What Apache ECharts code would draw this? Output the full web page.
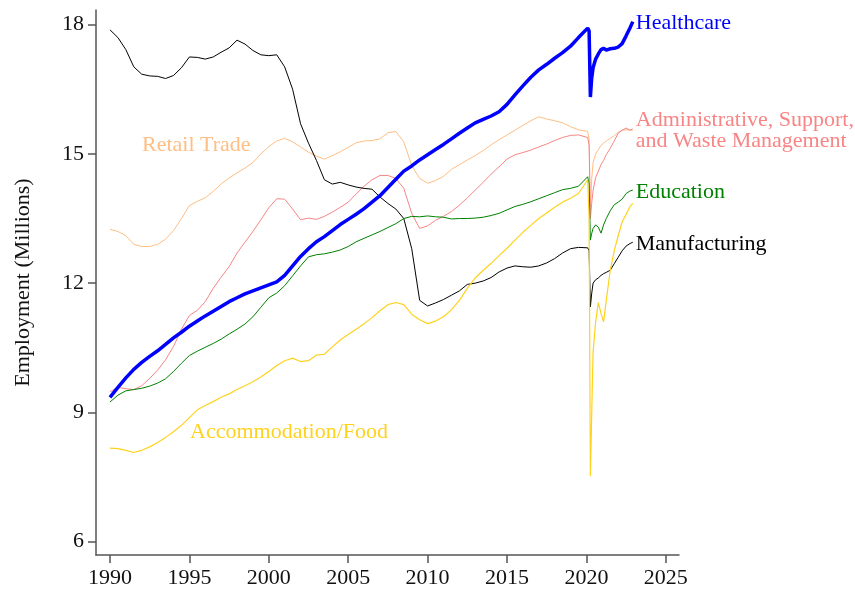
<!DOCTYPE html>
<html>
<head>
<meta charset="utf-8">
<script src="https://cdn.jsdelivr.net/npm/echarts@6.0.0/dist/echarts.min.js"></script>
<style>
  html, body { margin: 0; padding: 0; background: #fff; }
  #chart { width: 855px; height: 592px; }
</style>
</head>
<body>
<div id="chart"></div>
<script>
// x positions (decimal years): half-yearly to 2019.5, then denser through the 2020 drop
var years = [
  1990, 1990.5, 1991, 1991.5, 1992, 1992.5, 1993, 1993.5, 1994, 1994.5,
  1995, 1995.5, 1996, 1996.5, 1997, 1997.5, 1998, 1998.5, 1999, 1999.5,
  2000, 2000.5, 2001, 2001.5, 2002, 2002.5, 2003, 2003.5, 2004, 2004.5,
  2005, 2005.5, 2006, 2006.5, 2007, 2007.5, 2008, 2008.5, 2009, 2009.5,
  2010, 2010.5, 2011, 2011.5, 2012, 2012.5, 2013, 2013.5, 2014, 2014.5,
  2015, 2015.5, 2016, 2016.5, 2017, 2017.5, 2018, 2018.5, 2019, 2019.5,
  2020.08, 2020.17, 2020.25, 2020.33, 2020.42, 2020.58, 2020.75, 2020.92,
  2021.08, 2021.25, 2021.5, 2021.75, 2022, 2022.25, 2022.5, 2022.75, 2022.92
];

var manufacturing = [
  17.88, 17.7, 17.42, 17.02, 16.85, 16.81, 16.8, 16.75, 16.82, 17.0,
  17.25, 17.24, 17.2, 17.25, 17.36, 17.46, 17.64, 17.55, 17.4, 17.3,
  17.28, 17.3, 17.02, 16.5, 15.7, 15.25, 14.85, 14.4, 14.3, 14.34,
  14.28, 14.23, 14.2, 14.18, 14.0, 13.85, 13.72, 13.5, 12.8, 11.6,
  11.47, 11.54, 11.62, 11.72, 11.82, 11.97, 12.0, 12.05, 12.13, 12.26,
  12.35, 12.4, 12.38, 12.37, 12.4, 12.47, 12.57, 12.7, 12.8, 12.83,
  12.82, 12.75, 11.45, 11.75, 12.0, 12.08, 12.12, 12.18,
  12.22, 12.25, 12.3, 12.45, 12.6, 12.75, 12.86, 12.92, 12.95
];

var healthcare = [
  9.35, 9.58, 9.8, 10.0, 10.16, 10.3, 10.43, 10.58, 10.73, 10.86,
  11.0, 11.12, 11.24, 11.35, 11.46, 11.57, 11.66, 11.75, 11.82, 11.89,
  11.96, 12.03, 12.18, 12.4, 12.62, 12.8, 12.96, 13.08, 13.22, 13.36,
  13.48, 13.6, 13.73, 13.88, 14.03, 14.22, 14.41, 14.6, 14.72, 14.86,
  14.98, 15.1, 15.22, 15.35, 15.48, 15.6, 15.72, 15.8, 15.88, 15.98,
  16.15, 16.37, 16.58, 16.78, 16.95, 17.08, 17.22, 17.35, 17.5, 17.7,
  17.92, 17.85, 16.32, 16.75, 17.0, 17.2, 17.32, 17.42,
  17.45, 17.41, 17.44, 17.45, 17.48, 17.56, 17.74, 17.93, 18.07
];

var education = [
  9.24, 9.4, 9.5, 9.53, 9.56, 9.61, 9.68, 9.78, 9.95, 10.14,
  10.32, 10.42, 10.51, 10.6, 10.7, 10.82, 10.93, 11.05, 11.22, 11.44,
  11.66, 11.77, 11.94, 12.17, 12.4, 12.61, 12.66, 12.68, 12.72, 12.77,
  12.85, 12.96, 13.04, 13.12, 13.2, 13.29, 13.38, 13.5, 13.55, 13.54,
  13.56, 13.54, 13.53, 13.49, 13.5, 13.5, 13.51, 13.53, 13.57, 13.62,
  13.7, 13.78, 13.83, 13.89, 13.96, 14.03, 14.1, 14.17, 14.2, 14.25,
  14.47, 14.3, 13.0, 13.15, 13.27, 13.35, 13.3, 13.16,
  13.35, 13.5, 13.68, 13.82, 13.88, 13.95, 14.08, 14.14, 14.16
];

var adminSupport = [
  9.48, 9.58, 9.55, 9.53, 9.62, 9.79, 9.98, 10.22, 10.53, 10.93,
  11.25, 11.37, 11.57, 11.88, 12.14, 12.38, 12.7, 12.95, 13.2, 13.47,
  13.75, 13.96, 13.95, 13.72, 13.47, 13.51, 13.48, 13.55, 13.65, 13.76,
  13.88, 14.07, 14.25, 14.4, 14.5, 14.5, 14.43, 14.2, 13.62, 13.27,
  13.33, 13.46, 13.55, 13.66, 13.81, 13.98, 14.16, 14.34, 14.53, 14.7,
  14.88, 14.98, 15.03, 15.09, 15.16, 15.23, 15.31, 15.38, 15.43, 15.44,
  15.38, 15.2, 13.5, 13.85, 14.15, 14.45, 14.6, 14.75,
  14.85, 14.98, 15.13, 15.3, 15.48, 15.55, 15.6, 15.55, 15.58
];

var retail = [
  13.25, 13.2, 13.1, 12.9, 12.85, 12.85, 12.9, 13.02, 13.22, 13.5,
  13.8, 13.9, 13.98, 14.13, 14.3, 14.44, 14.56, 14.67, 14.8, 15.0,
  15.17, 15.3, 15.36, 15.28, 15.16, 15.04, 14.95, 14.88, 14.96, 15.05,
  15.15, 15.26, 15.3, 15.31, 15.35, 15.49, 15.52, 15.28, 14.73, 14.43,
  14.32, 14.38, 14.48, 14.64, 14.75, 14.86, 14.96, 15.08, 15.21, 15.33,
  15.44, 15.55, 15.66, 15.77, 15.86, 15.81, 15.77, 15.72, 15.63, 15.56,
  15.52, 15.35, 13.6, 14.4, 14.8, 15.0, 15.1, 15.2,
  15.25, 15.3, 15.36, 15.42, 15.5, 15.55, 15.56, 15.55, 15.55
];

var accommodation = [
  8.17, 8.16, 8.12, 8.07, 8.12, 8.2, 8.3, 8.42, 8.55, 8.7,
  8.88, 9.06, 9.16, 9.25, 9.35, 9.43, 9.53, 9.62, 9.71, 9.82,
  9.95, 10.09, 10.2, 10.26, 10.18, 10.2, 10.33, 10.35, 10.52, 10.68,
  10.81, 10.93, 11.06, 11.2, 11.36, 11.5, 11.55, 11.5, 11.28, 11.15,
  11.06, 11.12, 11.22, 11.38, 11.6, 11.88, 12.12, 12.3, 12.46, 12.64,
  12.81, 13.0, 13.18, 13.34, 13.5, 13.63, 13.76, 13.88, 13.97, 14.08,
  14.4, 13.5, 7.52, 8.9, 10.4, 11.1, 11.55, 11.3,
  11.1, 11.6, 12.3, 12.75, 13.1, 13.42, 13.6, 13.78, 13.85
];

var xTicks = [1990, 1995, 2000, 2005, 2010, 2015, 2020, 2025];
var yTicks = [6, 9, 12, 15, 18];

var FONT = '"Liberation Serif", "Times New Roman", serif';
var FS = 22;

function pairs(vals) {
    return years.map(function (y, i) { return [y, vals[i]]; });
}

function lineSeries(name, vals, color, width, endText) {
    var s = {
        name: name,
        type: 'line',
        data: pairs(vals),
        symbol: 'none',
        lineStyle: { color: color, width: width },
        itemStyle: { color: color },
        emphasis: { disabled: true }
    };
    if (endText) {
        s.endLabel = {
            show: true,
            formatter: endText,
            color: color,
            fontFamily: FONT,
            fontSize: FS,
            lineHeight: 21,
            distance: 3,
            offset: [0, 2]
        };
    }
    return s;
}

var dom = document.getElementById('chart');
var myChart = echarts.init(dom, null, { renderer: 'canvas' });

var option = {
    animation: false,
    backgroundColor: '#fff',
    grid: {
        left: 96,
        right: 176,
        top: 10,
        bottom: 37,
        containLabel: false
    },
    xAxis: {
        type: 'value',
        min: 1989.12,
        max: 2025.83,
        axisLine: { show: true, onZero: false, lineStyle: { color: '#555', width: 1.5 } },
        axisTick: { show: true, length: 8, customValues: xTicks, lineStyle: { color: '#555', width: 1.5 } },
        axisLabel: {
            customValues: xTicks,
            formatter: function (v) { return String(v); },
            margin: 12,
            color: '#111',
            fontFamily: FONT,
            fontSize: FS
        },
        splitLine: { show: false }
    },
    yAxis: {
        type: 'value',
        min: 5.69,
        max: 18.34,
        name: 'Employment (Millions)',
        nameLocation: 'middle',
        nameGap: 62,
        nameTextStyle: { color: '#111', fontFamily: FONT, fontSize: FS },
        axisLine: { show: true, lineStyle: { color: '#555', width: 1.5 } },
        axisTick: { show: true, length: 8, customValues: yTicks, lineStyle: { color: '#555', width: 1.5 } },
        axisLabel: {
            customValues: yTicks,
            margin: 12,
            color: '#111',
            fontFamily: FONT,
            fontSize: FS
        },
        splitLine: { show: false }
    },
    graphic: [
        {
            type: 'text',
            left: 142,
            top: 134,
            style: { text: 'Retail Trade', fill: '#FFBE84', font: FS + 'px ' + FONT }
        },
        {
            type: 'text',
            left: 190,
            top: 421,
            style: { text: 'Accommodation/Food', fill: '#FFD21E', font: FS + 'px ' + FONT }
        }
    ],
    series: [
        lineSeries('Retail Trade', retail, '#FFBE84', 1),
        lineSeries('Administrative, Support, and Waste Management', adminSupport, '#F88585', 1,
            'Administrative, Support,\nand Waste Management'),
        lineSeries('Manufacturing', manufacturing, '#000000', 1, 'Manufacturing'),
        lineSeries('Education', education, '#008000', 1, 'Education'),
        lineSeries('Accommodation/Food', accommodation, '#FFD21E', 1.2),
        lineSeries('Healthcare', healthcare, '#0000FF', 3.5, 'Healthcare')
    ]
};

myChart.setOption(option, true);
window.onresize = myChart.resize;
</script>
</body>
</html>
